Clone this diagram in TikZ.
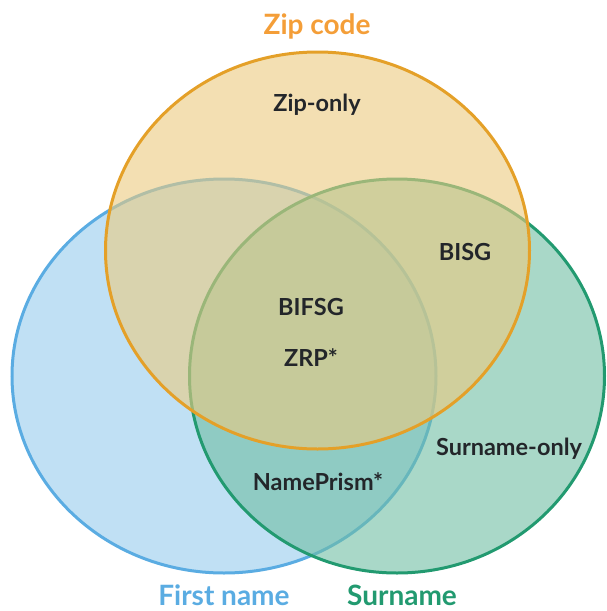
\documentclass[tikz,border=0pt]{standalone}
\usepackage{fontspec}
\setmainfont{Lato}
\definecolor{zipfill}{RGB}{235,202,127}
\definecolor{zipline}{RGB}{228,160,40}
\definecolor{zipttl}{RGB}{244,158,56}
\definecolor{bluefill}{RGB}{150,203,237}
\definecolor{blueline}{RGB}{90,172,226}
\definecolor{greenfill}{RGB}{112,190,163}
\definecolor{greenline}{RGB}{34,154,112}
\definecolor{txt}{RGB}{35,38,42}
\begin{document}
\begin{tikzpicture}[x=1pt,y=-1pt,
  setc/.style={line width=3pt,fill opacity=0.6},
  lbl/.style={anchor=base,font=\fontsize{23.5}{26}\selectfont\bfseries,text=txt,inner sep=0pt},
  ttl/.style={anchor=base,font=\fontsize{28}{31}\selectfont\bfseries,inner sep=0pt}]
\useasboundingbox (0,0) rectangle (607,611);
\path[setc,draw=blueline,fill=bluefill] (224,376) ellipse [x radius=212, y radius=197];
\path[setc,draw=greenline,fill=greenfill] (397,376) ellipse [x radius=207.5, y radius=197];
\path[setc,draw=zipline,fill=zipfill] (317.5,250.5) ellipse [x radius=212, y radius=198.5];
\node[ttl,text=zipttl] (tzip) at (317,34) {Zip code};
\node[ttl,text=blueline] (tfirst) at (224,605) {First name};
\node[ttl,text=greenline] (tsur) at (402,605) {Surname};
\node[lbl] (zonly) at (317,111) {Zip-only};
\node[lbl] (bisg) at (465,260) {BISG};
\node[lbl] (bifsg) at (311,315.5) {BIFSG};
\node[lbl] (zrp) at (311,366) {ZRP*};
\node[lbl] (sonly) at (509,455) {Surname-only};
\node[lbl] (nprism) at (318,490) {NamePrism*};
\end{tikzpicture}
\end{document}
